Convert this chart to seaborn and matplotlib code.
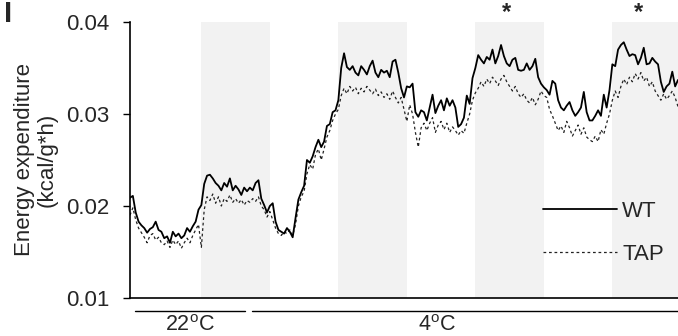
import numpy as np
import pandas as pd
import matplotlib
matplotlib.use("Agg")
import matplotlib.pyplot as plt
import matplotlib.transforms as mtransforms
import seaborn as sns

# ---------------- data ----------------
step_h = 0.5  # sampling interval (hours)
wt = [
    0.0209, 0.0211, 0.0193, 0.0183, 0.0179, 0.0176, 0.0171, 0.0175, 0.0177, 0.0183,
    0.0174, 0.0172, 0.0165, 0.0167, 0.0160, 0.0172, 0.0167, 0.0170, 0.0165, 0.0168,
    0.0176, 0.0172, 0.0178, 0.0183, 0.0196, 0.0201, 0.0224, 0.0233, 0.0234, 0.0230,
    0.0225, 0.0222, 0.0217, 0.0225, 0.0221, 0.0230, 0.0217, 0.0222, 0.0218, 0.0212,
    0.0220, 0.0216, 0.0220, 0.0217, 0.0225, 0.0228, 0.0208, 0.0201, 0.0193, 0.0200,
    0.0203, 0.0183, 0.0174, 0.0172, 0.0170, 0.0176, 0.0172, 0.0166, 0.0187, 0.0207,
    0.0215, 0.0222, 0.0250, 0.0247, 0.0254, 0.0264, 0.0272, 0.0264, 0.0270, 0.0287,
    0.0289, 0.0302, 0.0304, 0.0315, 0.0350, 0.0366, 0.0351, 0.0348, 0.0352, 0.0345,
    0.0342, 0.0352, 0.0348, 0.0343, 0.0352, 0.0358, 0.0345, 0.0340, 0.0348, 0.0345,
    0.0347, 0.0340, 0.0357, 0.0359, 0.0345, 0.0328, 0.0318, 0.0330, 0.0329, 0.0333,
    0.0302, 0.0297, 0.0304, 0.0302, 0.0293, 0.0307, 0.0321, 0.0301, 0.0309, 0.0315,
    0.0304, 0.0317, 0.0309, 0.0315, 0.0307, 0.0286, 0.0289, 0.0296, 0.0320, 0.0311,
    0.0339, 0.0350, 0.0364, 0.0359, 0.0355, 0.0362, 0.0359, 0.0370, 0.0355, 0.0363,
    0.0375, 0.0363, 0.0355, 0.0352, 0.0359, 0.0361, 0.0348, 0.0347, 0.0348, 0.0355,
    0.0348, 0.0352, 0.0360, 0.0340, 0.0333, 0.0329, 0.0326, 0.0321, 0.0336, 0.0333,
    0.0315, 0.0307, 0.0304, 0.0309, 0.0313, 0.0304, 0.0298, 0.0302, 0.0307, 0.0324,
    0.0302, 0.0293, 0.0293, 0.0298, 0.0304, 0.0298, 0.0321, 0.0307, 0.0326, 0.0354,
    0.0352, 0.0370, 0.0375, 0.0378, 0.0370, 0.0363, 0.0365, 0.0364, 0.0354, 0.0361,
    0.0372, 0.0354, 0.0355, 0.0361, 0.0357, 0.0354, 0.0335, 0.0324, 0.0330, 0.0333,
    0.0346, 0.0330, 0.0337,
]
tap = [
    0.0190, 0.0198, 0.0185, 0.0176, 0.0171, 0.0166, 0.0160, 0.0168, 0.0170, 0.0163,
    0.0166, 0.0160, 0.0158, 0.0162, 0.0155, 0.0163, 0.0158, 0.0162, 0.0154, 0.0160,
    0.0165, 0.0160, 0.0168, 0.0174, 0.0180, 0.0155, 0.0196, 0.0210, 0.0206, 0.0213,
    0.0203, 0.0210, 0.0200, 0.0208, 0.0205, 0.0212, 0.0204, 0.0208, 0.0203, 0.0207,
    0.0201, 0.0206, 0.0204, 0.0208, 0.0205, 0.0210, 0.0200, 0.0196, 0.0188, 0.0194,
    0.0185, 0.0176, 0.0170, 0.0168, 0.0172, 0.0170, 0.0174, 0.0168, 0.0180, 0.0200,
    0.0210, 0.0216, 0.0235, 0.0245, 0.0240, 0.0256, 0.0262, 0.0250, 0.0262, 0.0275,
    0.0282, 0.0293, 0.0300, 0.0305, 0.0320, 0.0328, 0.0322, 0.0330, 0.0325, 0.0329,
    0.0322, 0.0328, 0.0324, 0.0330, 0.0326, 0.0322, 0.0327, 0.0320, 0.0324, 0.0318,
    0.0322, 0.0316, 0.0325, 0.0318, 0.0312, 0.0318, 0.0305, 0.0292, 0.0310, 0.0300,
    0.0280, 0.0264, 0.0285, 0.0290, 0.0282, 0.0290, 0.0296, 0.0280, 0.0288, 0.0292,
    0.0283, 0.0290, 0.0280, 0.0286, 0.0282, 0.0277, 0.0282, 0.0279, 0.0290, 0.0300,
    0.0315, 0.0323, 0.0328, 0.0335, 0.0330, 0.0338, 0.0333, 0.0340, 0.0336, 0.0331,
    0.0338, 0.0342, 0.0335, 0.0330, 0.0325, 0.0330, 0.0322, 0.0318, 0.0322, 0.0315,
    0.0312, 0.0318, 0.0310, 0.0316, 0.0325, 0.0320, 0.0318, 0.0305, 0.0298, 0.0290,
    0.0282, 0.0287, 0.0280, 0.0292, 0.0285, 0.0276, 0.0282, 0.0288, 0.0278, 0.0285,
    0.0275, 0.0272, 0.0270, 0.0276, 0.0270, 0.0283, 0.0278, 0.0290, 0.0300, 0.0315,
    0.0325, 0.0318, 0.0330, 0.0338, 0.0332, 0.0340, 0.0335, 0.0344, 0.0338, 0.0345,
    0.0336, 0.0340, 0.0330, 0.0335, 0.0325, 0.0320, 0.0315, 0.0322, 0.0316, 0.0320,
    0.0325, 0.0318, 0.0308,
]
genotypes = ["WT", "TAP"]
dark_starts = [12.5, 36.5, 60.5, 84.5]   # hours, start of dark phase
dark_length = 12.0
temp_labels = ["22$^{\\mathrm{o}}$C", "4$^{\\mathrm{o}}$C"]
temp_spans = [(0.9, 20.1), (21.4, 100.0)]
temp_label_x = [10.5, 53.8]
star_x = [66.0, 89.0]
y_ticks = [0.01, 0.02, 0.03, 0.04]
y_tick_labels = ["0.01", "0.02", "0.03", "0.04"]

hours = np.arange(len(wt)) * step_h
df = pd.DataFrame({
    "hour": np.concatenate([hours, hours]),
    "ee": np.concatenate([wt, tap]),
    "genotype": ["WT"] * len(wt) + ["TAP"] * len(tap),
})

# ---------------- style ----------------
sns.set_style("ticks")
plt.rcParams["font.family"] = ["Liberation Sans", "DejaVu Sans"]
plt.rcParams["mathtext.fontset"] = "custom"
plt.rcParams["mathtext.rm"] = "Liberation Sans"
plt.rcParams["mathtext.it"] = "Liberation Sans:italic"
plt.rcParams["mathtext.bf"] = "Liberation Sans:bold"

fig = plt.figure(figsize=(6.78, 3.36), dpi=100)
ax = fig.add_axes([130 / 678, 38 / 336, 548 / 678, 276 / 336])

for s in dark_starts:
    ax.axvspan(s, s + dark_length, color="#f2f2f2", lw=0, zorder=0)

sns.lineplot(data=df[df.genotype == "TAP"], x="hour", y="ee", ax=ax,
             color="#222222", lw=0.9, linestyle=(0, (2.2, 2.2)), label="TAP",
             zorder=2)
sns.lineplot(data=df[df.genotype == "WT"], x="hour", y="ee", ax=ax,
             color="black", lw=1.3, label="WT", zorder=3)

ax.set_xlim(0, 96)
ax.set_ylim(0.01, 0.04)
ax.set_yticks(y_ticks)
ax.set_yticklabels(y_tick_labels)
ax.set_xticks([])
ax.set_xlabel("")
ax.set_ylabel("Energy expenditure\n(kcal/g*h)", fontsize=16, linespacing=1.12,
              labelpad=6)
ax.tick_params(axis="y", labelsize=16, length=5, width=1.0, pad=10,
               direction="out", color="black")
for side in ["top", "right"]:
    ax.spines[side].set_visible(False)
for side in ["left", "bottom"]:
    ax.spines[side].set_linewidth(1.2)
    ax.spines[side].set_color("black")

# legend (WT first)
handles, labels = ax.get_legend_handles_labels()
order = [labels.index(g) for g in genotypes]
ax.legend([handles[i] for i in order], [labels[i] for i in order],
          loc="center left", bbox_to_anchor=(0.754, 0.236), frameon=False,
          fontsize=16, handlelength=3.3, handletextpad=0.25,
          labelspacing=1.0, borderpad=0, borderaxespad=0)

# temperature bars under the axis
trans = mtransforms.blended_transform_factory(ax.transData, ax.transAxes)
for (x0, x1), lab, lx in zip(temp_spans, temp_labels, temp_label_x):
    ax.plot([x0, x1], [-0.047, -0.047], color="black", lw=1.0,
            transform=trans, clip_on=False)
    ax.text(lx, -0.098, lab, transform=trans, ha="center", va="center",
            fontsize=15.5, clip_on=False)

# significance stars
for sx in star_x:
    ax.text(sx, 1.035, "*", transform=trans, ha="center", va="center",
            fontsize=17, fontweight="bold", clip_on=False)

# panel letter
fig.text(0.006, 1.0, "I", fontsize=21, fontweight="bold", ha="left", va="top")

fig.savefig("out.png", dpi=100)
